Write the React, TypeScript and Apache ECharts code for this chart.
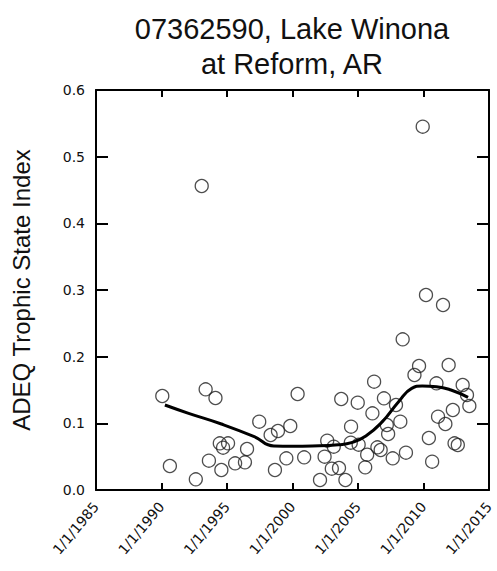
import React, { useEffect, useRef } from "react";
import * as echarts from "echarts";

// Sample dates (decimal years) and ADEQ Trophic State Index values
const sampleYears = [
  1990.06, 1990.64, 1992.62, 1993.07, 1993.37, 1993.62, 1994.12, 1994.45, 1994.57, 1994.7,
  1995.08, 1995.62, 1996.37, 1996.53, 1997.46, 1998.33, 1998.66, 1998.89, 1999.53, 1999.83,
  2000.39, 2000.89, 2002.1, 2002.45, 2002.65, 2003.0, 2003.15, 2003.55, 2004.04, 2003.72,
  2004.47, 2004.45, 2005.05, 2004.98, 2005.7, 2005.55, 2006.1, 2006.23, 2006.48, 2006.73,
  2006.98, 2007.3, 2007.2, 2007.65, 2007.9, 2008.23, 2008.66, 2008.41, 2009.31, 2009.66,
  2009.94, 2010.19, 2010.41, 2010.66, 2010.99, 2011.11, 2011.49, 2011.67, 2011.92, 2012.24,
  2012.37, 2012.62, 2012.99, 2013.32, 2013.5,
];
const sampleTsi = [
  0.141, 0.036, 0.016, 0.456, 0.151, 0.044, 0.138, 0.07, 0.03, 0.0635,
  0.07, 0.04, 0.0415, 0.0615, 0.1025, 0.0825, 0.03, 0.0885, 0.0475, 0.096,
  0.144, 0.049, 0.015, 0.05, 0.074, 0.032, 0.065, 0.033, 0.015, 0.1365,
  0.095, 0.071, 0.068, 0.131, 0.053, 0.034, 0.115, 0.1625, 0.064, 0.06,
  0.1375, 0.084, 0.0975, 0.0475, 0.1275, 0.1025, 0.056, 0.226, 0.1725, 0.186,
  0.545, 0.2925, 0.078, 0.0425, 0.16, 0.11, 0.2775, 0.099, 0.1875, 0.12,
  0.07, 0.0675, 0.1575, 0.1425, 0.126,
];

// Smoothed (LOWESS) trend
const trendYears = [
  1990.26, 1992.07, 1994.57, 1997.08, 1998.58, 2000.0, 2001.5, 2003.5, 2004.5, 2005.6,
  2006.86, 2008.1, 2009.1, 2009.9, 2011.0, 2012.1, 2013.4,
];
const trendTsi = [
  0.1275, 0.115, 0.099, 0.08, 0.066, 0.0655, 0.066, 0.068, 0.071, 0.081,
  0.1025, 0.1325, 0.1525, 0.156, 0.155, 0.15, 0.139,
];

const xTicks = [1985, 1990, 1995, 2000, 2005, 2010, 2015];
const yTicks = [0, 0.1, 0.2, 0.3, 0.4, 0.5, 0.6];

const titleLines = ["07362590, Lake Winona", "at Reform, AR"];
const yAxisTitle = "ADEQ Trophic State Index";

export default function App() {
  const ref = useRef<HTMLDivElement>(null);

  useEffect(() => {
    if (!ref.current) return;
    document.body.style.margin = "0";
    const chart = echarts.init(ref.current, null, { renderer: "svg" });

    const xMin = xTicks[0];
    const xMax = xTicks[xTicks.length - 1];
    const yMin = yTicks[0];
    const yMax = yTicks[yTicks.length - 1];

    const scatterData = sampleYears.map((y, i) => [y, sampleTsi[i]]);
    const trendData = trendYears.map((y, i) => [y, trendTsi[i]]);

    const makeX = (position: string, labels: boolean) => ({
      type: "value",
      position,
      min: xMin,
      max: xMax,
      interval: 5,
      splitLine: { show: false },
      axisLine: { show: true, onZero: false, lineStyle: { color: "#000", width: 2 } },
      axisTick: { show: true, inside: true, length: 7, lineStyle: { color: "#000", width: 2 } },
      axisLabel: labels
        ? {
            show: true,
            rotate: 50,
            margin: 14,
            fontFamily: "DejaVu Sans",
            fontSize: 14,
            color: "#111",
            formatter: (v: number) => `1/1/${v}`,
          }
        : { show: false },
    });

    const makeY = (position: string, labels: boolean) => ({
      type: "value",
      position,
      min: yMin,
      max: yMax,
      interval: 0.1,
      splitLine: { show: false },
      axisLine: { show: true, onZero: false, lineStyle: { color: "#000", width: 2 } },
      axisTick: { show: true, inside: true, length: 12, lineStyle: { color: "#000", width: 2 } },
      axisLabel: labels
        ? {
            show: true,
            margin: 11,
            fontFamily: "DejaVu Sans",
            fontSize: 14,
            color: "#111",
            formatter: (v: number) => v.toFixed(1),
          }
        : { show: false },
    });

    chart.setOption({
      animation: false,
      grid: { left: 96, right: 8, top: 90, bottom: 81, outerBoundsMode: "none" },
      xAxis: [makeX("bottom", true), makeX("top", false)],
      yAxis: [makeY("left", true), makeY("right", false)],
      graphic: [
        {
          type: "text",
          x: 292,
          y: 29,
          style: {
            text: titleLines[0],
            fontFamily: "Liberation Sans",
            fontSize: 29,
            fill: "#111",
            align: "center",
            verticalAlign: "middle",
          },
        },
        {
          type: "text",
          x: 292,
          y: 64,
          style: {
            text: titleLines[1],
            fontFamily: "Liberation Sans",
            fontSize: 29,
            fill: "#111",
            align: "center",
            verticalAlign: "middle",
          },
        },
        {
          type: "text",
          x: 21,
          y: 290,
          rotation: Math.PI / 2,
          style: {
            text: yAxisTitle,
            fontFamily: "Liberation Sans",
            fontSize: 24,
            fill: "#111",
            align: "center",
            verticalAlign: "middle",
          },
        },
      ],
      series: [
        {
          type: "scatter",
          xAxisIndex: 0,
          yAxisIndex: 0,
          data: scatterData,
          symbol: "circle",
          symbolSize: 13,
          itemStyle: { color: "rgba(255,255,255,0)", borderColor: "#222", borderWidth: 1.3 },
        },
        {
          type: "line",
          xAxisIndex: 0,
          yAxisIndex: 0,
          data: trendData,
          smooth: true,
          showSymbol: false,
          symbol: "none",
          lineStyle: { color: "#000", width: 3 },
        },
      ],
    });

    return () => chart.dispose();
  }, []);

  return <div ref={ref} style={{ width: 497, height: 571 }} />;
}
